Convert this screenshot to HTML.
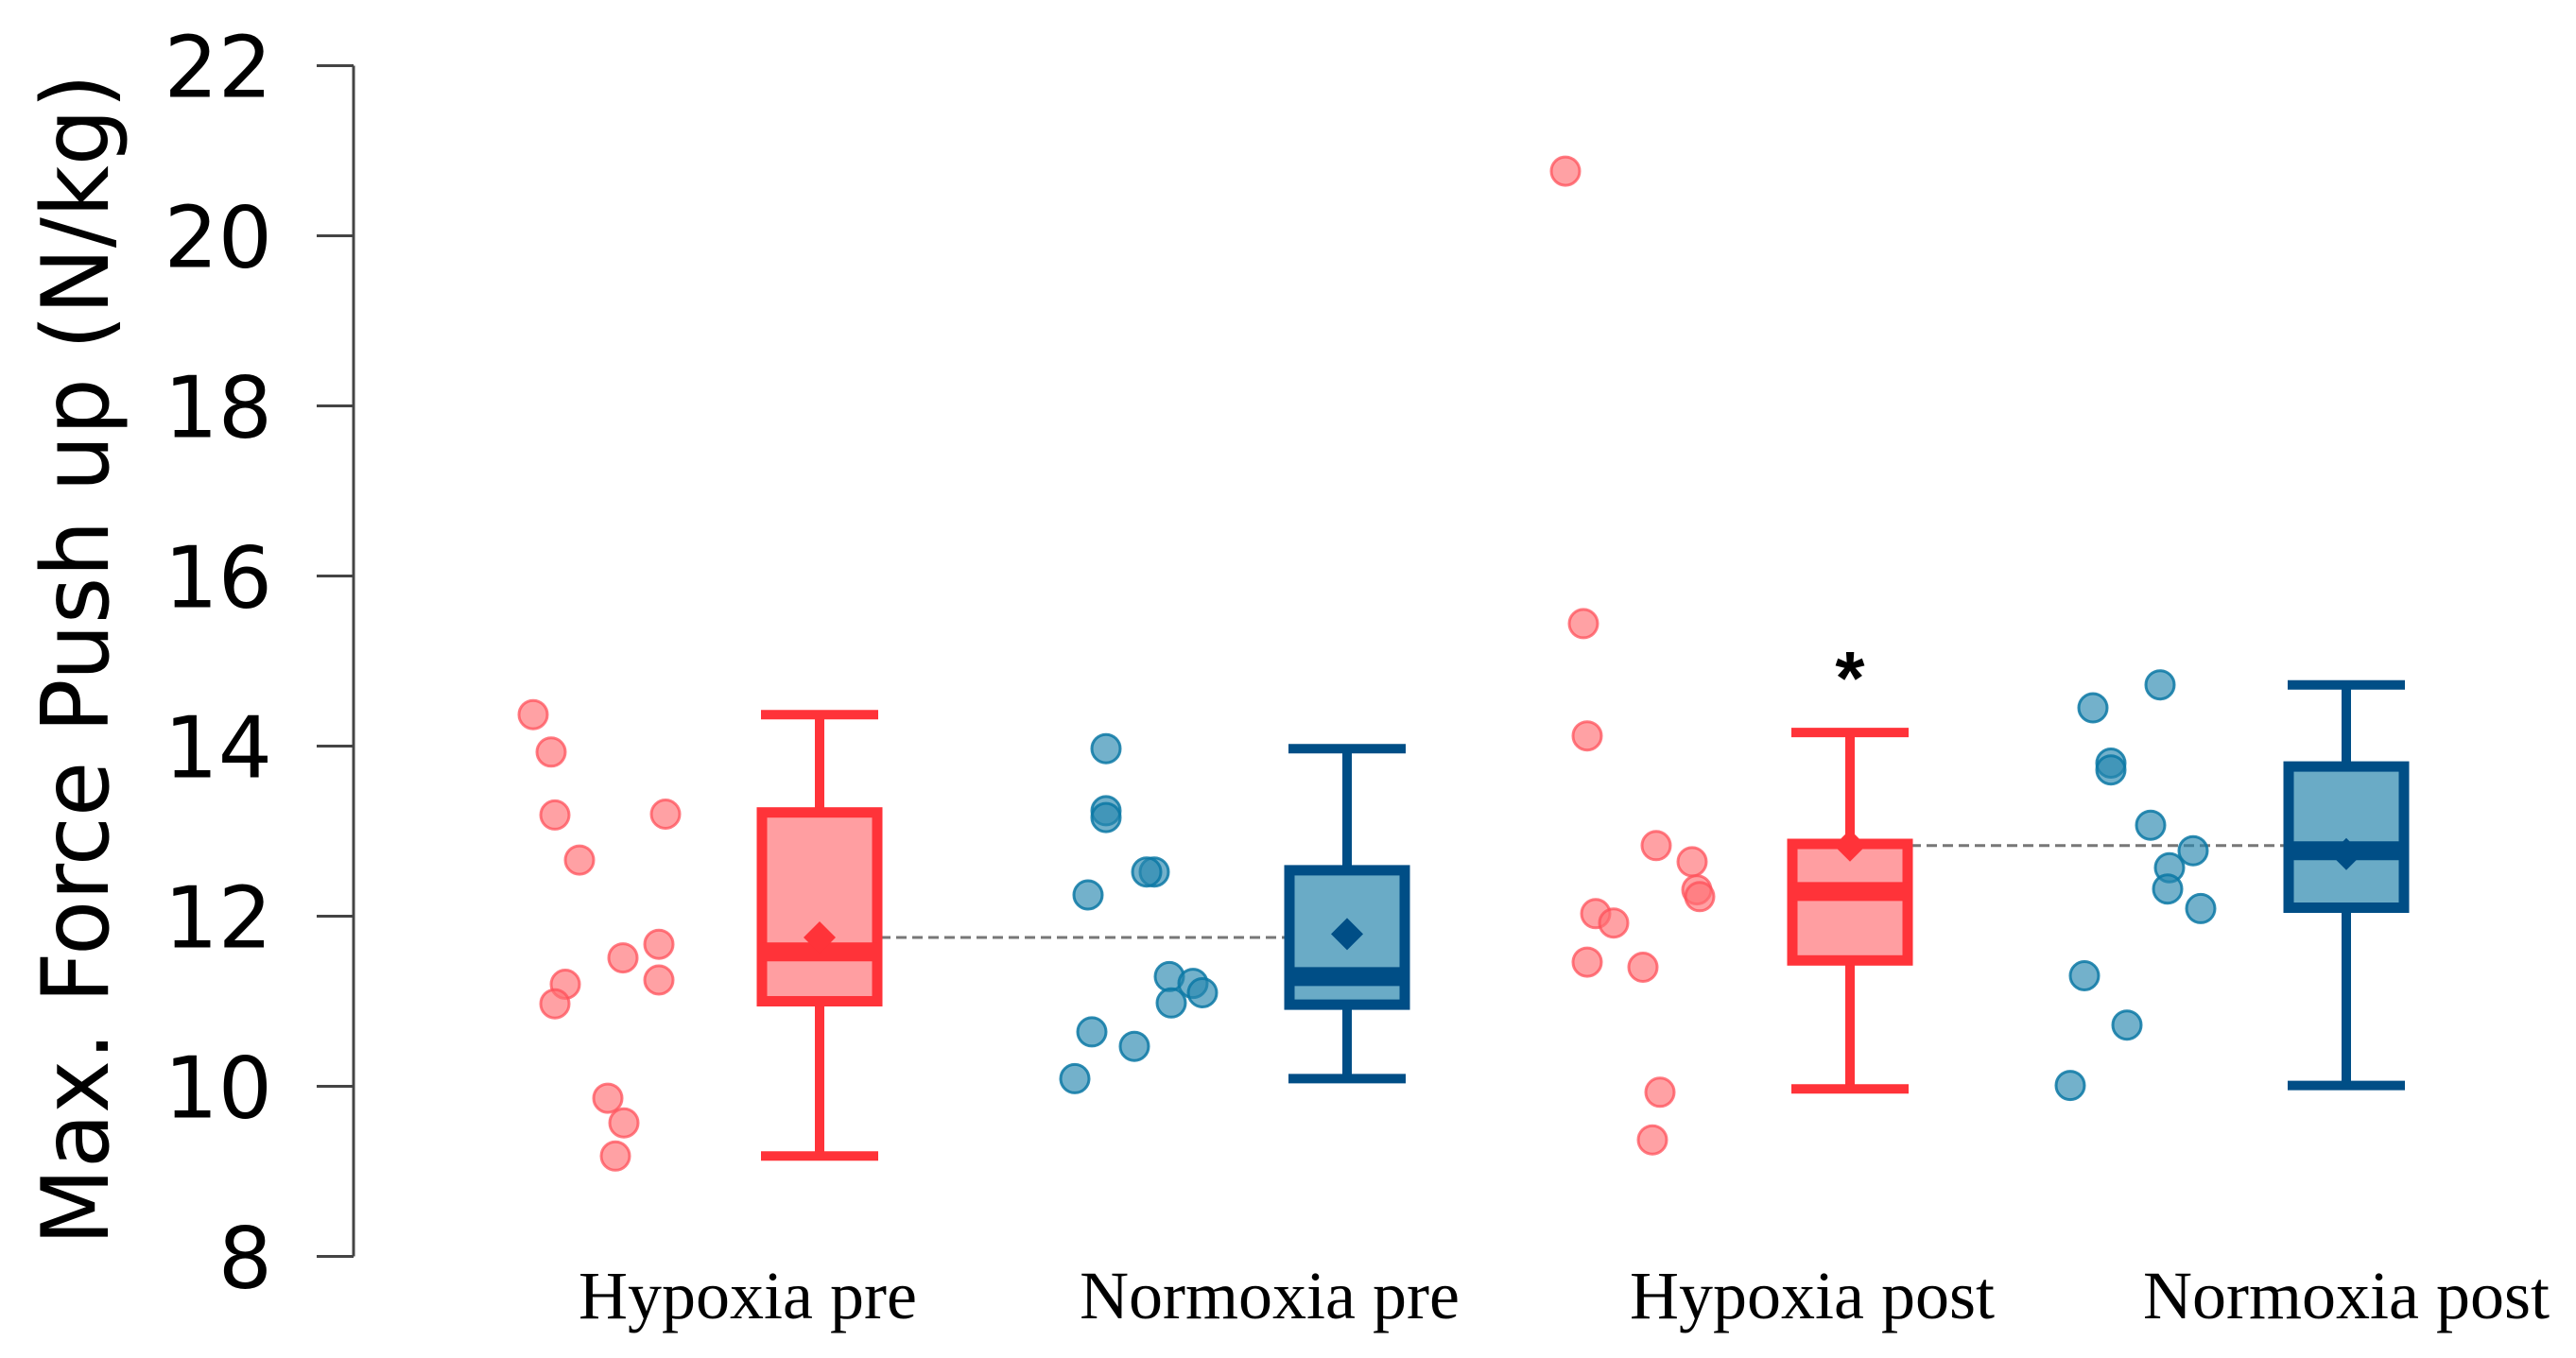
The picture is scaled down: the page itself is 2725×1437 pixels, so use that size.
<!DOCTYPE html>
<html><head><meta charset="utf-8"><style>
html,body{margin:0;padding:0;background:#fff;}
svg{display:block;}
</style></head><body>
<svg id="chart" width="2725" height="1437" viewBox="0 0 2725 1437" xmlns="http://www.w3.org/2000/svg">
<g id="axis"></g>
<g id="plot"></g>
<text transform="translate(114,698) rotate(-90)" text-anchor="middle" font-family="'DejaVu Sans Condensed','Liberation Sans Narrow','Liberation Sans',sans-serif" font-size="98" textLength="1240" lengthAdjust="spacingAndGlyphs" fill="#000">Max. Force Push up (N/kg)</text>
</svg>
<script>
const categories = ["Hypoxia pre","Normoxia pre","Hypoxia post","Normoxia post"];
const yTicks = [8,10,12,14,16,18,20,22];
const whiskerHigh = [14.37,13.97,14.16,14.72];
const q3 = [13.22,12.54,12.85,13.76];
const median = [11.58,11.29,12.29,12.77];
const q1 = [11.0,10.96,11.48,12.10];
const whiskerLow = [9.18,10.09,9.97,10.01];
const means = [11.75,11.79,12.83,12.73];
const pointsHypPre = [14.37,13.93,13.19,12.66,11.2,10.97,11.51,11.67,11.25,13.2,9.86,9.57,9.18];
const pointsNormPre = [13.97,13.24,13.16,12.25,12.52,12.52,10.64,10.47,10.09,11.29,10.98,11.21,11.1];
const pointsHypPost = [20.76,15.44,14.12,12.83,12.64,12.31,12.23,12.03,11.92,11.46,11.4,9.93,9.37];
const pointsNormPost = [14.45,14.72,13.8,13.72,13.07,12.77,12.57,12.32,12.09,11.3,10.72,10.01];
const pointSeries = [pointsHypPre,pointsNormPre,pointsHypPost,pointsNormPost];
// horizontal jitter offsets (layout, relative to point-cloud anchor)
const jitterHypPre = [-76,-57,-53,-27,-42,-53,19,57,57,64,3,20,11];
const jitterNormPre = [-52,-52,-52,-71,-1,-9,-67,-22,-85,15,17,40,50];
const jitterHypPost = [-50,-31,-27,46,84,89,92,-18,1,-27,32,50,42];
const jitterNormPost = [-14,57,5,5,47,92,67,65,100,-23,22,-38];
const jitters = [jitterHypPre,jitterNormPre,jitterHypPost,jitterNormPost];

const ns = "http://www.w3.org/2000/svg";
const boxCenters = [867,1425,1957,2482];
const cloudCenters = [640,1222,1706,2228];
const labelCenters = [791,1343,1917,2482];
const colors = [
 {line:"#ff3339",fill:"#ff9ea1",pt:"rgba(255,110,115,0.65)",ptStroke:"rgba(255,80,90,0.75)"},
 {line:"#004e86",fill:"#6aabc6",pt:"rgba(40,135,175,0.65)",ptStroke:"rgba(10,120,165,0.85)"}
];
function yScale(v){ return 69.5 + (22 - v) * 90.0; }
function mk(tag, attrs, parent){
  const e = document.createElementNS(ns, tag);
  for (const k in attrs) e.setAttribute(k, attrs[k]);
  parent.appendChild(e); return e;
}
const axis = document.getElementById('axis');
const plot = document.getElementById('plot');
let al = mk('line',{x1:374,x2:374,y1:yScale(22),y2:yScale(8),stroke:'#444','stroke-width':3},axis);


yTicks.forEach(t=>{
  const tk = mk('line',{x1:335,x2:374,y1:yScale(t),y2:yScale(t),stroke:'#444','stroke-width':3},axis);
  
  
  const tl = mk('text',{x:288,y:yScale(t)+33,'text-anchor':'end','font-family':"'DejaVu Sans','Liberation Sans',sans-serif",'font-size':90,fill:'#000'},axis);
  tl.textContent = t;
  
  
});
[[0,1],[2,3]].forEach(p=>{
  const d = mk('line',{x1:boxCenters[p[0]]+30,x2:boxCenters[p[1]]-30,y1:yScale(means[p[0]]),y2:yScale(means[p[0]]),stroke:'#777','stroke-width':3,'stroke-dasharray':'11 6'},plot);
  
  
});
categories.forEach((c,i)=>{
  const col = colors[i%2];
  const cx = boxCenters[i];
  const g = mk('g',{},plot);
  
  
  pointSeries[i].forEach((v,j)=>{
    const pt = mk('circle',{cx:cloudCenters[i]+jitters[i][j],cy:yScale(v),r:15,fill:col.pt,stroke:col.ptStroke,'stroke-width':3},g);
    
    
  });
  mk('line',{x1:cx,x2:cx,y1:yScale(whiskerHigh[i]),y2:yScale(q3[i]),stroke:col.line,'stroke-width':10},g);
  mk('line',{x1:cx,x2:cx,y1:yScale(q1[i]),y2:yScale(whiskerLow[i]),stroke:col.line,'stroke-width':10},g);
  mk('line',{x1:cx-62,x2:cx+62,y1:yScale(whiskerHigh[i]),y2:yScale(whiskerHigh[i]),stroke:col.line,'stroke-width':10},g);
  mk('line',{x1:cx-62,x2:cx+62,y1:yScale(whiskerLow[i]),y2:yScale(whiskerLow[i]),stroke:col.line,'stroke-width':10},g);
  mk('rect',{x:cx-61,y:yScale(q3[i]),width:122,height:yScale(q1[i])-yScale(q3[i]),fill:col.fill,stroke:col.line,'stroke-width':11},g);
  mk('line',{x1:cx-61,x2:cx+61,y1:yScale(median[i]),y2:yScale(median[i]),stroke:col.line,'stroke-width':20},g);
  const m = yScale(means[i]);
  const dm = mk('polygon',{points:`${cx},${m-17} ${cx+17},${m} ${cx},${m+17} ${cx-17},${m}`,fill:col.line},g);
  
  
  const lab = mk('text',{x:labelCenters[i],y:1395,'text-anchor':'middle','font-family':"'Liberation Serif',serif",'font-size':72,fill:'#000'},plot);
  lab.textContent = c;
  
  
});
const star = mk('text',{x:boxCenters[2],y:yScale(whiskerHigh[2])-30,'text-anchor':'middle','font-family':"'Liberation Sans',sans-serif",'font-size':80,'font-weight':'bold',fill:'#000'},plot);
star.textContent='*';


</script>
</body></html>
